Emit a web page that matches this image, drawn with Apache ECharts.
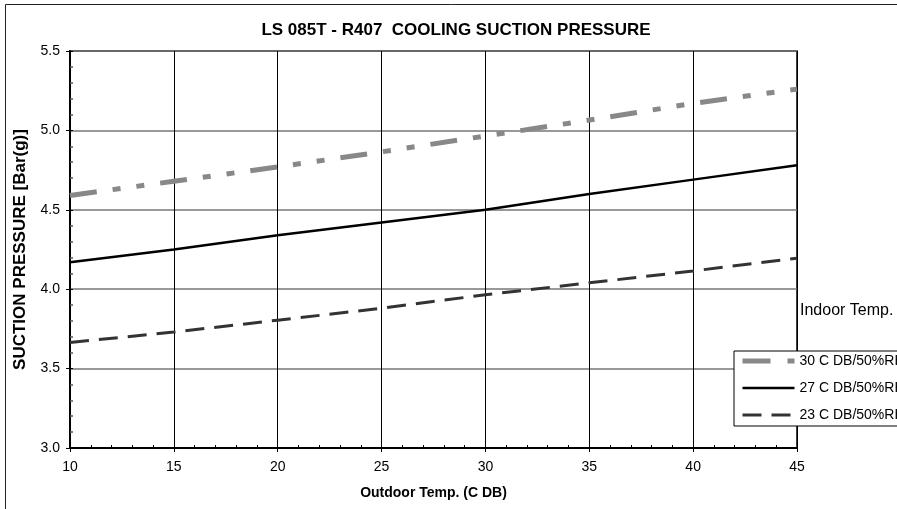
<!DOCTYPE html>
<html>
<head>
<meta charset="utf-8">
<script src="https://cdn.jsdelivr.net/npm/echarts@6/dist/echarts.min.js"></script>
<style>
html,body{margin:0;padding:0;background:#fff;}
#main{width:897px;height:509px;}
</style>
</head>
<body>
<div id="main"></div>
<script>
const titleText = 'LS 085T - R407  COOLING SUCTION PRESSURE';
const xAxisName = 'Outdoor Temp. (C DB)';
const yAxisName = 'SUCTION PRESSURE [Bar(g)]';
const legendTitle = 'Indoor Temp.';
const outdoorTemps = [10, 15, 20, 25, 30, 35, 40, 45];
const seriesNames = ['30 C DB/50%RH', '27 C DB/50%RH', '23 C DB/50%RH'];
const pressure30 = [4.59, 4.68, 4.77, 4.865, 4.965, 5.065, 5.17, 5.26];
const pressure27 = [4.17, 4.25, 4.34, 4.42, 4.50, 4.60, 4.69, 4.78];
const pressure23 = [3.665, 3.73, 3.805, 3.88, 3.965, 4.04, 4.115, 4.195];

const FONT = '"Liberation Sans", Arial, sans-serif';
const pair = vals => outdoorTemps.map((x, i) => [x, vals[i]]);

const styles = [
  {color: '#888', width: 5, type: [27, 16, 8, 16, 8, 16]},
  {color: '#000', width: 2.5, type: 'solid'},
  {color: '#333', width: 3, type: [19, 10]}
];
const legendDash = [[28, 17, 8, 100], 'solid', [19, 10]];

const chart = echarts.init(document.getElementById('main'), null, {renderer: 'canvas'});
chart.setOption({
  animation: false,
  backgroundColor: '#fff',
  textStyle: {fontFamily: FONT, color: '#000'},
  grid: {left: 70, right: 100, top: 51, bottom: 61, show: true, borderColor: '#000', borderWidth: 1.5, backgroundColor: 'transparent'},
  legend: {
    orient: 'vertical', left: 734, top: 351,
    padding: [3, 20, 4, 6], itemGap: 13, itemWidth: 52, itemHeight: 14,
    backgroundColor: '#fff', borderColor: '#000', borderWidth: 1, borderRadius: 0,
    textStyle: {fontFamily: FONT, fontSize: 14, color: '#000'},
    itemStyle: {opacity: 0},
    data: seriesNames.map((n, i) => ({
      name: n,
      itemStyle: {opacity: 0},
      lineStyle: {color: styles[i].color, width: styles[i].width, type: legendDash[i], opacity: 1}
    }))
  },
  graphic: [
    {type: 'rect', shape: {x: 5.5, y: 4.5, width: 1000, height: 1000}, style: {fill: 'none', stroke: '#222', lineWidth: 1}, silent: true, z: -10},
    {type: 'text', x: 456, y: 30, style: {text: titleText, font: 'bold 17px ' + FONT, fill: '#000', textAlign: 'center', textVerticalAlign: 'middle'}},
    {type: 'text', x: 800, y: 311, style: {text: legendTitle, font: '16px ' + FONT, fill: '#000', textAlign: 'left', textVerticalAlign: 'middle'}}
  ],
  xAxis: [{
    type: 'value', min: 10, max: 45, interval: 5,
    name: xAxisName, nameLocation: 'middle', nameGap: 38,
    nameTextStyle: {fontFamily: FONT, fontWeight: 'bold', fontSize: 14, color: '#000'},
    axisLine: {show: true, onZero: false, lineStyle: {color: '#000', width: 2}},
    axisTick: {show: true, inside: false, length: 4, lineStyle: {color: '#000', width: 1}},
    axisLabel: {fontFamily: FONT, fontSize: 14, color: '#000', margin: 12},
    splitLine: {show: true, lineStyle: {color: '#000', width: 1}}
  }, {
    type: 'value', min: 10, max: 45, interval: 5, position: 'bottom',
    axisLine: {show: false, onZero: false},
    axisTick: {show: true, inside: true, length: 3, lineStyle: {color: '#000'}},
    minorTick: {show: true, splitNumber: 5, length: 3, lineStyle: {color: '#000', width: 1}},
    axisLabel: {show: false}, splitLine: {show: false}
  }],
  yAxis: [{
    type: 'value', min: 3.0, max: 5.5, interval: 0.5,
    name: yAxisName, nameLocation: 'middle', nameGap: 41, nameRotate: 90,
    nameTextStyle: {fontFamily: FONT, fontWeight: 'bold', fontSize: 17, color: '#000'},
    axisLine: {show: true, onZero: false, lineStyle: {color: '#000', width: 2}},
    axisTick: {show: true, inside: false, length: 4, lineStyle: {color: '#000'}},
    axisLabel: {fontFamily: FONT, fontSize: 14, color: '#000', margin: 10, formatter: v => v.toFixed(1)},
    splitLine: {show: true, lineStyle: {color: '#777', width: 1.5}}
  }, {
    type: 'value', min: 3.0, max: 5.5, interval: 0.5, position: 'left',
    axisLine: {show: false, onZero: false},
    axisTick: {show: true, inside: true, length: 3, lineStyle: {color: '#000'}},
    minorTick: {show: true, splitNumber: 5, length: 3, lineStyle: {color: '#555', width: 1.5}},
    axisLabel: {show: false}, splitLine: {show: false}
  }],
  series: [
    {name: seriesNames[0], type: 'line', data: pair(pressure30), showSymbol: false, symbol: 'none', z: 5,
     lineStyle: styles[0], itemStyle: {color: styles[0].color}},
    {name: seriesNames[1], type: 'line', data: pair(pressure27), showSymbol: false, symbol: 'none', z: 5,
     lineStyle: styles[1], itemStyle: {color: styles[1].color}},
    {name: seriesNames[2], type: 'line', data: pair(pressure23), showSymbol: false, symbol: 'none', z: 5,
     lineStyle: styles[2], itemStyle: {color: styles[2].color}}
  ]
});
</script>
</body>
</html>
